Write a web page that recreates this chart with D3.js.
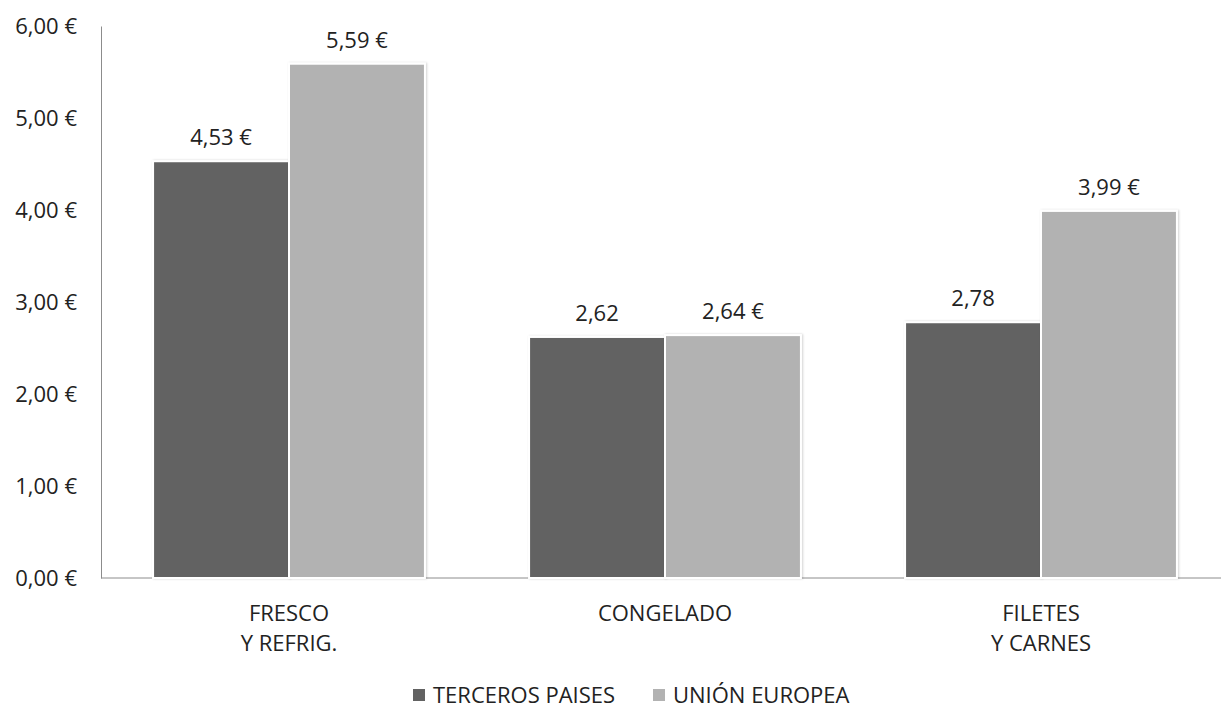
<!DOCTYPE html>
<html>
<head>
<meta charset="utf-8">
<script src="https://cdn.jsdelivr.net/npm/d3@7"></script>
<style>
  body { margin: 0; background: #fff; }
  text { font-family: "Open Sans", Lato, sans-serif; fill: #222; }
</style>
</head>
<body>
<div class="chart"></div>
<script>
// datos
const categories = [['FRESCO', 'Y REFRIG.'], ['CONGELADO'], ['FILETES', 'Y CARNES']];
const seriesNames = ['TERCEROS PAISES', 'UNIÓN EUROPEA'];
const terceros = [4.53, 2.62, 2.78];
const unionEuropea = [5.59, 2.64, 3.99];
const tercerosLabels = ['4,53 €', '2,62', '2,78'];
const ueLabels = ['5,59 €', '2,64 €', '3,99 €'];
const yTicks = [0, 1, 2, 3, 4, 5, 6];
const colors = ['#626262', '#b2b2b2'];

let w = 1221;
let h = 709;
let padLeft = 101;
let padTop = 26;
let baseY = 578;
let fontFam = '"Open Sans", Lato, sans-serif';
let fs = 22;

let svg = d3.select('.chart')
    .append('svg')
    .attr('width', w)
    .attr('height', h);

let x0 = d3.scaleBand().domain(d3.range(categories.length)).range([padLeft, 1229])
    .paddingInner(0.277).paddingOuter(0.1385);
let x1 = d3.scaleBand().domain([0, 1]).range([0, x0.bandwidth()]);
let y = d3.scaleLinear().domain([0, 6]).range([baseY, padTop]);

let fmt = d => d.toFixed(2).replace('.', ',') + ' €';

// eje y
let yAxis = d3.axisLeft(y).tickValues(yTicks).tickFormat(fmt).tickSize(0).tickPadding(24);
let gy = svg.append('g').attr('transform', 'translate(' + padLeft + ',0)').call(yAxis);
gy.attr('font-family', fontFam).attr('font-size', fs);
gy.select('.domain').attr('stroke', '#8c8c8c');
gy.selectAll('text').attr('fill', '#222');

// eje x
svg.append('line')
    .attr('x1', padLeft).attr('x2', w)
    .attr('y1', baseY).attr('y2', baseY)
    .attr('stroke', '#8c8c8c');

let series = [terceros, unionEuropea];
let labels = [tercerosLabels, ueLabels];

// sombra suave
let defs = svg.append('defs');
let f = defs.append('filter').attr('id', 'shadow').attr('x', '-10%').attr('y', '-10%').attr('width', '120%').attr('height', '120%');
f.append('feDropShadow').attr('dx', 1).attr('dy', 0).attr('stdDeviation', 1.2).attr('flood-color', '#000').attr('flood-opacity', 0.18);

series.forEach(function(vals, s) {
    svg.selectAll('.bar-' + s)
        .data(vals)
        .enter()
        .append('rect')
        .attr('x', (d, i) => x0(i) + x1(s))
        .attr('y', d => y(d))
        .attr('width', x1.bandwidth())
        .attr('height', d => baseY - y(d))
        .attr('fill', colors[s])
        .attr('stroke', '#fff')
        .attr('stroke-width', 2)
        .attr('filter', 'url(#shadow)');

    svg.selectAll('.lbl-' + s)
        .data(vals)
        .enter()
        .append('text')
        .attr('x', (d, i) => x0(i) + x1(s) + x1.bandwidth() / 2)
        .attr('y', d => y(d) - 16)
        .attr('text-anchor', 'middle')
        .attr('font-size', fs)
        .text((d, i) => labels[s][i]);
});

// etiquetas de categoria
categories.forEach(function(lines, i) {
    let t = svg.append('text')
        .attr('x', x0(i) + x0.bandwidth() / 2)
        .attr('y', 621)
        .attr('text-anchor', 'middle')
        .attr('font-size', fs);
    lines.forEach(function(l, j) {
        t.append('tspan').attr('x', x0(i) + x0.bandwidth() / 2).attr('dy', j ? 30 : 0).text(l);
    });
});

// leyenda
let legendX = [413, 653];
seriesNames.forEach(function(n, s) {
    svg.append('rect')
        .attr('x', legendX[s]).attr('y', 689)
        .attr('width', 12).attr('height', 12)
        .attr('fill', colors[s]);
    svg.append('text')
        .attr('x', legendX[s] + 20).attr('y', 703)
        .attr('font-size', fs)
        .text(n);
});
</script>
</body>
</html>
